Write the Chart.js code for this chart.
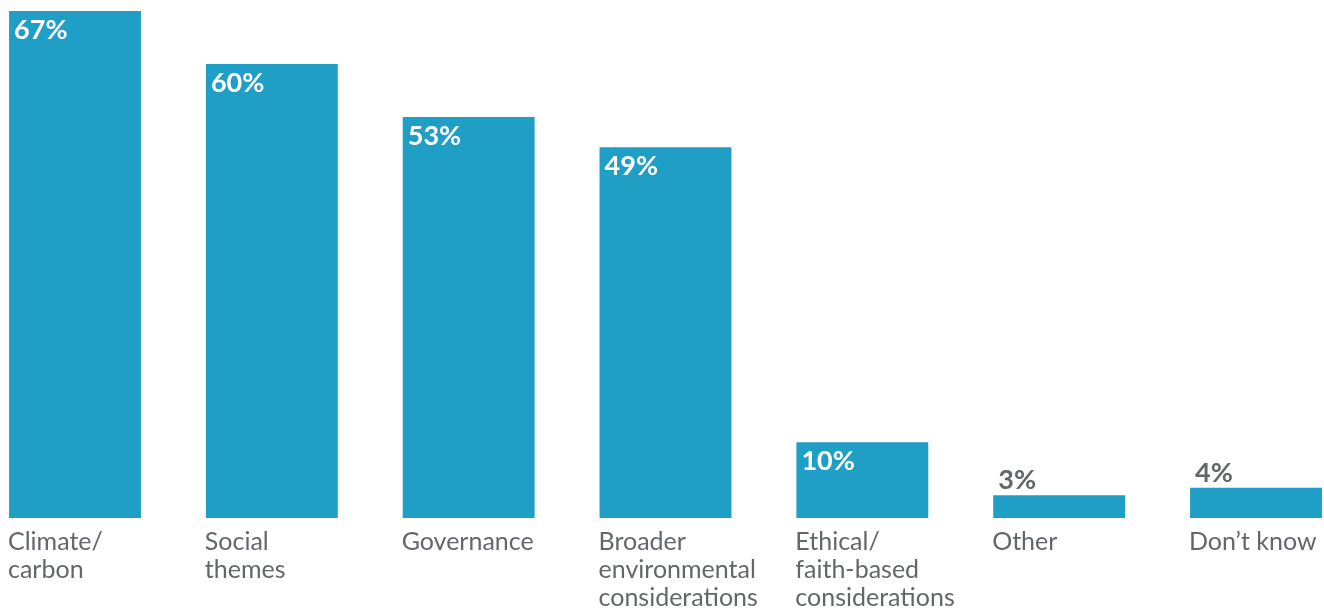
<!DOCTYPE html>
<html>
<head>
<meta charset="utf-8">
<script src="https://cdn.jsdelivr.net/npm/chart.js@4.4.1/dist/chart.umd.min.js"></script>
<style>
  html, body { margin: 0; padding: 0; background: #fff; }
  #wrap { width: 1324px; height: 612px; position: relative; }
</style>
</head>
<body>
<div id="wrap"><canvas id="themesChart"></canvas></div>
<script>
// Data
const categories = [
  ['Climate/', 'carbon'],
  ['Social', 'themes'],
  ['Governance'],
  ['Broader', 'environmental', 'considerations'],
  ['Ethical/', 'faith-based', 'considerations'],
  ['Other'],
  ['Don\u2019t know'],
];
const shares = [67, 60, 53, 49, 10, 3, 4];

const barColor = '#1f9fc5';
const textGrey = '#63666a';

// value labels: inside the bar (white) or just above it (grey) for short bars
const valueLabels = {
  id: 'valueLabels',
  afterDatasetsDraw(chart) {
    const ctx = chart.ctx;
    const meta = chart.getDatasetMeta(0);
    ctx.save();
    ctx.font = "bold 27px Lato, sans-serif";
    ctx.textAlign = 'left';
    ctx.textBaseline = 'alphabetic';
    meta.data.forEach((bar, i) => {
      const left = bar.x - bar.width / 2;
      const h = bar.base - bar.y;
      const txt = shares[i] + '%';
      if (h > 45) {
        ctx.fillStyle = '#ffffff';
        ctx.fillText(txt, left + 5, bar.y + 28);
      } else {
        ctx.fillStyle = textGrey;
        ctx.fillText(txt, left + 5, bar.y - 6);
      }
    });
    ctx.restore();
  },
};

new Chart(document.getElementById('themesChart'), {
  type: 'bar',
  data: {
    labels: categories,
    datasets: [
      {
        data: shares,
        backgroundColor: barColor,
        borderWidth: 0,
        categoryPercentage: 1,
        barPercentage: 0.67,
        clip: false,
      },
    ],
  },
  options: {
    responsive: true,
    maintainAspectRatio: false,
    animation: false,
    layout: {
      padding: { left: 75, right: 68, top: 11, bottom: 0 },
    },
    plugins: {
      legend: { display: false },
      tooltip: { enabled: false },
    },
    scales: {
      x: {
        offset: false,
        grid: { display: false, drawTicks: false },
        border: { display: false },
        ticks: {
          align: 'start',
          labelOffset: -67,
          padding: 10,
          maxRotation: 0,
          autoSkip: false,
          color: textGrey,
          font: { family: 'Lato, sans-serif', size: 25, lineHeight: 1.12 },
        },
        afterFit(scale) {
          scale.paddingLeft = 0;
          scale.paddingRight = 0;
          scale.height = 94;
        },
      },
      y: {
        display: false,
        min: 0,
        max: 67,
      },
    },
  },
  plugins: [valueLabels],
});
</script>
</body>
</html>
